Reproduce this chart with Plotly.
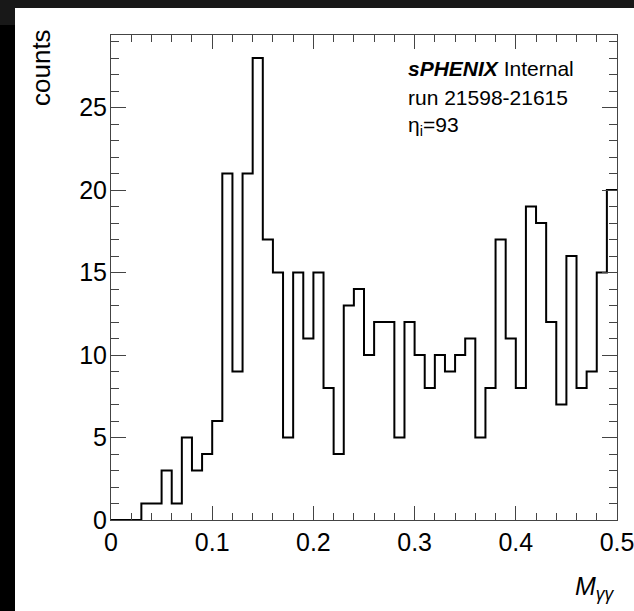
import plotly.graph_objects as go

# ---- data ----
bin_width = 0.01
counts = [0, 0, 0, 1, 1, 3, 1, 5, 3, 4,
          6, 21, 9, 21, 28, 17, 15, 5, 15, 11,
          15, 8, 4, 13, 14, 10, 12, 12, 5, 12,
          10, 8, 10, 9, 10, 11, 5, 8, 17, 11,
          8, 19, 18, 12, 7, 16, 8, 9, 15, 20]
x_tick_vals = [0, 0.1, 0.2, 0.3, 0.4, 0.5]
x_tick_text = ["0", "0.1", "0.2", "0.3", "0.4", "0.5"]
y_tick_vals = [0, 5, 10, 15, 20, 25]
y_tick_text = ["0", "5", "10", "15", "20", "25"]

edges = [round(i * bin_width, 4) for i in range(len(counts) + 1)]
xs = edges
ys = counts + [counts[-1]]

W, H = 634, 611
L, R, T, B = 111, 17, 35, 91
pw, ph = W - L - R, H - T - B

def px(x):
    return (x - L) / pw

def py(y):
    return (H - B - y) / ph

FONT = "Liberation Sans, Arial, Helvetica, sans-serif"

fig = go.Figure()
fig.add_trace(go.Scatter(x=xs, y=ys, mode="lines", line=dict(color="black", width=2, shape="hv"),
                         hoverinfo="skip", showlegend=False))

axis_common = dict(showline=True, linecolor="#444", linewidth=1, mirror="allticks",
                   ticks="inside", tickcolor="#444", tickwidth=1, showgrid=False, zeroline=False,
                   ticklabeloverflow="allow", automargin=False,
                   tickfont=dict(family=FONT, size=25, color="black"))

fig.update_xaxes(range=[0, 0.5], tickvals=x_tick_vals, ticktext=x_tick_text, ticklen=14,
                 minor=dict(dtick=0.02, ticks="inside", ticklen=7, tickcolor="#444", showgrid=False),
                 **axis_common)
fig.update_yaxes(range=[0, 29.4], tickvals=y_tick_vals, ticktext=y_tick_text, ticklen=15,
                 ticklabelstandoff=-2,
                 minor=dict(dtick=1, ticks="inside", ticklen=8, tickcolor="#444", showgrid=False),
                 **axis_common)

ann = []
ann.append(dict(text="<b><i>sPHENIX</i></b> Internal", x=px(406), y=py(68), xref="paper", yref="paper",
                xanchor="left", yanchor="middle", showarrow=False, font=dict(family=FONT, size=21, color="black")))
ann.append(dict(text="run 21598-21615", x=px(406), y=py(97), xref="paper", yref="paper",
                xanchor="left", yanchor="middle", showarrow=False, font=dict(family=FONT, size=21, color="black")))
ann.append(dict(text="η<sub>i</sub>=93", x=px(406), y=py(126), xref="paper", yref="paper",
                xanchor="left", yanchor="middle", showarrow=False, font=dict(family=FONT, size=21, color="black")))
ann.append(dict(text="counts", x=px(41), y=py(68), xref="paper", yref="paper", textangle=-90,
                xanchor="center", yanchor="middle", showarrow=False, font=dict(family=FONT, size=26, color="black")))
ann.append(dict(text="<i>M</i><sub><i>γγ</i></sub>", x=px(617), y=py(588), xref="paper", yref="paper",
                xanchor="right", yanchor="middle", showarrow=False, font=dict(family=FONT, size=25, color="black")))

shapes = [
    dict(type="rect", xref="paper", yref="paper", x0=px(0), x1=px(W + 5), y0=py(8), y1=py(-5),
         fillcolor="#181818", line=dict(width=0), layer="above"),
    dict(type="rect", xref="paper", yref="paper", x0=px(-5), x1=px(15), y0=py(25), y1=py(0),
         fillcolor="#181818", line=dict(width=0), layer="above"),
    dict(type="rect", xref="paper", yref="paper", x0=px(-5), x1=px(15), y0=py(H + 5), y1=py(25),
         fillcolor="black", line=dict(width=0), layer="above"),
]

fig.update_layout(width=W, height=H, margin=dict(l=L, r=R, t=T, b=B, autoexpand=False),
                  paper_bgcolor="white", plot_bgcolor="white",
                  annotations=ann, shapes=shapes, showlegend=False)

fig.write_html("out.html")
